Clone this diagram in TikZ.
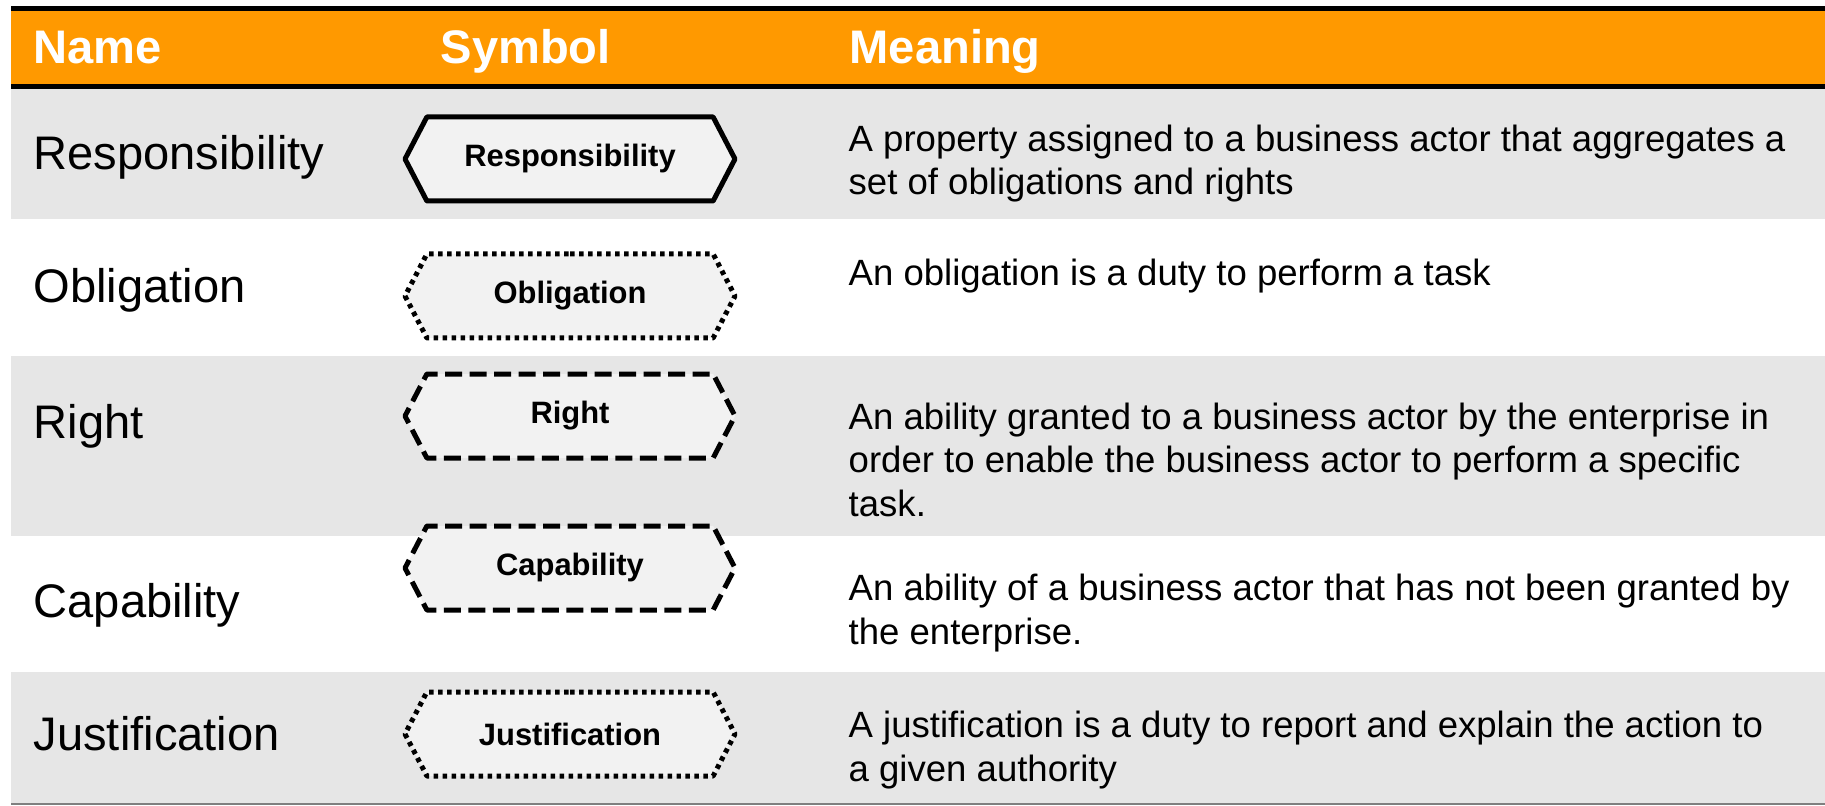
\documentclass[tikz,border=0pt]{standalone}
\usepackage{fontspec}
\setmainfont{Liberation Sans}
\usetikzlibrary{shapes.symbols}
\definecolor{headorange}{HTML}{FF9900}
\definecolor{rowgray}{HTML}{E6E6E6}
\definecolor{symfill}{HTML}{F2F2F2}
\definecolor{rulegray}{HTML}{7F7F7F}

\begin{document}
\begin{tikzpicture}[line join=round,
		headtext/.style={anchor=base west, inner sep=0, text=white, font=\bfseries\fontsize{13.4}{16}\selectfont},
		termtext/.style={anchor=base west, inner sep=0, font=\fontsize{13.4}{16}\selectfont},
		meaningtext/.style={anchor=base west, inner sep=0, align=left, font=\fontsize{10.4}{12.25}\selectfont},
		symbox/.style={signal, signal to=east and west, signal pointer angle=125, draw, fill=symfill, line width=0.05cm, minimum width=3.3cm, minimum height=0.84cm, inner sep=0, font=\bfseries\fontsize{8.8}{10}\selectfont},
		dotsym/.style={symbox, dash pattern=on 0.045cm off 0.045cm},
		dashsym/.style={symbox, dash pattern=on 0.17cm off 0.075cm}]
			\useasboundingbox (0,0) rectangle (18.25,-8.06);
			\fill[headorange] (0.11,-0.11) rectangle (18.25,-0.84);
			\draw[line width=0.05cm] (0.11,-0.085) -- (18.25,-0.085);
			\draw[line width=0.05cm] (0.11,-0.865) -- (18.25,-0.865);
			\fill[rowgray] (0.11,-0.89) rectangle (18.25,-2.19);
			\fill[rowgray] (0.11,-3.56) rectangle (18.25,-5.36);
			\fill[rowgray] (0.11,-6.72) rectangle (18.25,-8.03);
			\draw[rulegray, line width=0.02cm] (0.11,-8.04) -- (18.25,-8.04);
			\node (hname) [headtext] at (0.33,-0.64) {Name};
			\node (hsym) [headtext] at (4.40,-0.64) {Symbol};
			\node (hmean) [headtext] at (8.49,-0.64) {Meaning};
			\node (tresp) [termtext] at (0.33,-1.70) {Responsibility};
			\node (tobl) [termtext] at (0.33,-3.03) {Obligation};
			\node (tright) [termtext] at (0.33,-4.39) {Right};
			\node (tcap) [termtext] at (0.33,-6.17) {Capability};
			\node (tjust) [termtext] at (0.33,-7.50) {Justification};
			\node (sresp) [symbox] at (5.70,-1.59) {Responsibility};
			\node (sobl) [dotsym] at (5.70,-2.96) {Obligation};
			\node (sright) [dashsym] at (5.70,-4.16) {Right};
			\node (scap) [dashsym] at (5.70,-5.68) {Capability};
			\node (sjust) [dotsym] at (5.70,-7.34) {Justification};
			\node (mresp) [meaningtext] at (8.48,-1.95) {A property assigned to a business actor that aggregates a\\set of obligations and rights};
			\node (mobl) [meaningtext] at (8.48,-2.85) {An obligation is a duty to perform a task};
			\node (mright) [meaningtext] at (8.48,-5.16) {An ability granted to a business actor by the enterprise in\\order to enable the business actor to perform a specific\\task.};
			\node (mcap) [meaningtext] at (8.48,-6.44) {An ability of a business actor that has not been granted by\\the enterprise.};
			\node (mjust) [meaningtext] at (8.48,-7.81) {A justification is a duty to report and explain the action to\\a given authority};
		\end{tikzpicture}
\end{document}
